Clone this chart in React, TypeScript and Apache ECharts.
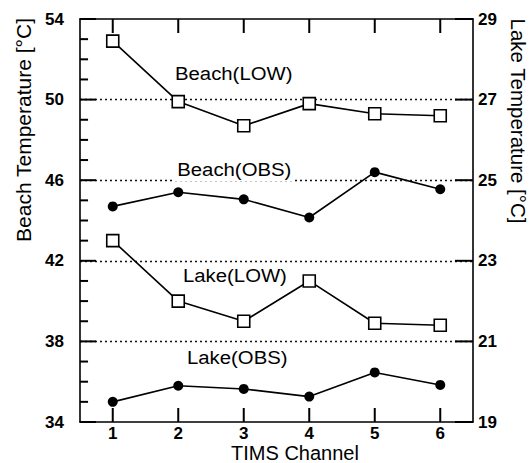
import React, { useEffect, useRef } from "react";
import * as echarts from "echarts";

const categories = ["1", "2", "3", "4", "5", "6"];
const beachLow = [52.9, 49.9, 48.7, 49.8, 49.3, 49.2];
const beachObs = [44.7, 45.4, 45.05, 44.15, 46.4, 45.55];
const lakeLow = [23.5, 22.0, 21.5, 22.5, 21.45, 21.4];
const lakeObs = [19.5, 19.9, 19.82, 19.63, 20.23, 19.92];

const leftTicks = { min: 34, max: 54, interval: 4 };
const rightTicks = { min: 19, max: 29, interval: 2 };
const leftMinorStep = 1;

const FONT = "'Liberation Sans', Arial, Helvetica, sans-serif";
const TICK_COLOR = "#000";

export default function App() {
  const ref = useRef<HTMLDivElement>(null);
  useEffect(() => {
    if (!ref.current) return;
    const chart = echarts.init(ref.current, undefined, { renderer: "svg" });
    const axisLine = { show: true, lineStyle: { color: "#000", width: 1.6 } };
    const tickLabel = { color: "#000", fontFamily: FONT, fontWeight: "bold" as const, fontSize: 17 };
    const lastCat = categories.length - 1;

    const leftTickValues: number[][] = [];
    for (let v = leftTicks.min; v <= leftTicks.max; v += leftMinorStep) {
      leftTickValues.push([0, v, (v - leftTicks.min) % leftTicks.interval === 0 ? 1 : 0]);
    }
    const rightTickValues: number[][] = [];
    for (let v = rightTicks.min; v <= rightTicks.max; v += rightTicks.interval) {
      rightTickValues.push([lastCat, v]);
    }
    const xTickValues = categories.map((_, i) => [i, leftTicks.min]);

    const squareSeries = (name: string, data: number[], yAxisIndex: number) => ({
      name, type: "line", data, yAxisIndex, symbol: "rect", symbolSize: 12,
      lineStyle: { color: "#000", width: 1.6 },
      itemStyle: { color: "#fff", borderColor: "#000", borderWidth: 1.6 }, z: 3,
    });
    const dotSeries = (name: string, data: number[], yAxisIndex: number) => ({
      name, type: "line", data, yAxisIndex, symbol: "circle", symbolSize: 10,
      lineStyle: { color: "#000", width: 1.6 },
      itemStyle: { color: "#000", borderColor: "#000", borderWidth: 0 }, z: 3,
    });
    const label = (text: string, x: number, y: number, bg?: boolean) => ({
      type: "text", x, y, scaleX: 1.13, z: 10,
      style: {
        text, fill: "#000", font: `18px ${FONT}`, align: "left", verticalAlign: "middle",
        ...(bg ? { backgroundColor: "#fff", padding: [1, 3, 3, 2] } : {}),
      },
    });
    const tickLine = (x1: number, y1: number, x2: number, y2: number) => ({
      type: "polyline",
      shape: { points: [[x1, y1], [x2, y2]] },
      style: { stroke: TICK_COLOR, lineWidth: 2, fill: null },
    });
    chart.setOption({
      animation: false,
      backgroundColor: "#fff",
      grid: { left: 80, right: 58, top: 19, bottom: 41 },
      xAxis: [
        {
          type: "category", data: categories, position: "bottom", boundaryGap: true, axisLine,
          axisTick: { show: false },
          axisLabel: { ...tickLabel, margin: 3 }, splitLine: { show: false },
        },
        {
          type: "category", data: categories, position: "top", boundaryGap: true, axisLine,
          axisTick: { show: false },
          axisLabel: { show: false }, splitLine: { show: false },
        },
      ],
      yAxis: [
        {
          type: "value", position: "left", ...leftTicks, axisLine, axisTick: { show: false },
          axisLabel: { ...tickLabel, margin: 16 },
          splitLine: { show: true, showMinLine: false, showMaxLine: false, lineStyle: { color: "#111", width: 1.3, type: [2, 3] } },
        },
        {
          type: "value", position: "right", ...rightTicks, axisLine, axisTick: { show: false },
          axisLabel: { ...tickLabel, margin: 5 }, splitLine: { show: false },
        },
      ],
      series: [
        {
          type: "custom", name: "xTicks", data: xTickValues, xAxisIndex: 0, yAxisIndex: 0, z: 5,
          renderItem: (params: any, api: any) => {
            const pb = api.coord([api.value(0), leftTicks.min]);
            const pt = api.coord([api.value(0), leftTicks.max]);
            return {
              type: "group",
              children: [tickLine(pb[0], pb[1], pb[0], pb[1] - 14), tickLine(pt[0], pt[1], pt[0], pt[1] + 14)],
            };
          },
        },
        {
          type: "custom", name: "leftTicks", data: leftTickValues, xAxisIndex: 0, yAxisIndex: 0, z: 5,
          renderItem: (params: any, api: any) => {
            const p = api.coord([0, api.value(1)]);
            const x0 = p[0] - 32.7;
            const len = api.value(2) ? 16 : 8;
            return tickLine(x0, p[1], x0 + len, p[1]);
          },
        },
        {
          type: "custom", name: "rightTicks", data: rightTickValues, xAxisIndex: 0, yAxisIndex: 1, z: 5,
          renderItem: (params: any, api: any) => {
            const p = api.coord([api.value(0), api.value(1)]);
            const xr = p[0] + 32.7;
            return tickLine(xr - 18, p[1], xr, p[1]);
          },
        },
        squareSeries("Beach(LOW)", beachLow, 0),
        dotSeries("Beach(OBS)", beachObs, 0),
        squareSeries("Lake(LOW)", lakeLow, 1),
        dotSeries("Lake(OBS)", lakeObs, 1),
      ],
      graphic: [
        label("Beach(LOW)", 175, 74),
        label("Beach(OBS)", 175, 170, true),
        label("Lake(LOW)", 183, 276),
        label("Lake(OBS)", 187, 358),
        { type: "text", x: 295, y: 453, style: { text: "TIMS Channel", fill: "#000", font: `20px ${FONT}`, align: "center", verticalAlign: "middle" } },
        { type: "text", x: 23, y: 130, rotation: Math.PI / 2, style: { text: "Beach Temperature [°C]", fill: "#000", font: `21px ${FONT}`, align: "center", verticalAlign: "middle" } },
        { type: "text", x: 518, y: 121, rotation: -Math.PI / 2, style: { text: "Lake Temperature [°C]", fill: "#000", font: `20.5px ${FONT}`, align: "center", verticalAlign: "middle" } },
      ],
    });
    return () => chart.dispose();
  }, []);
  return <div ref={ref} style={{ position: "fixed", left: 0, top: 0, width: 531, height: 463 }} />;
}
